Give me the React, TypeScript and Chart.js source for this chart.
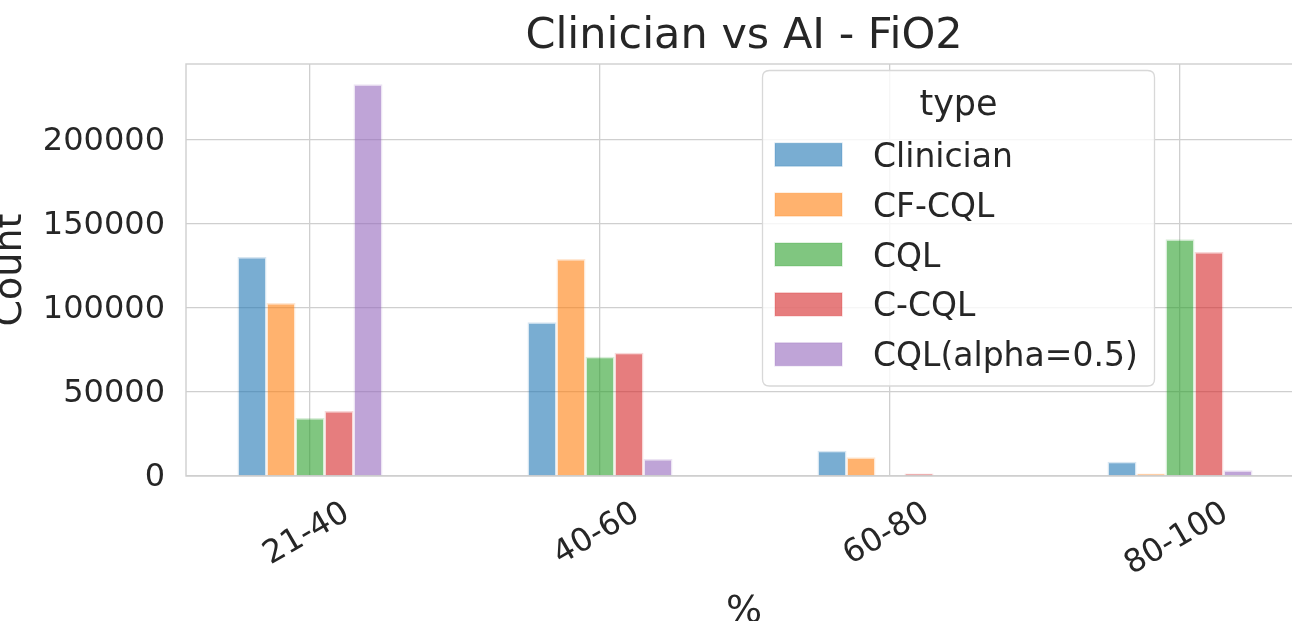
import React, { useEffect, useRef } from "react";
import { Chart, registerables } from "chart.js";

Chart.register(...registerables);

const categories = ["21-40", "40-60", "60-80", "80-100"];
const seriesNames = ["Clinician", "CF-CQL", "CQL", "C-CQL", "CQL(alpha=0.5)"];
const clinician = [130400, 91500, 15100, 8500];
const cfCql = [103000, 129100, 11100, 1500];
const cql = [34500, 71000, 0, 140900];
const cCql = [38700, 73400, 1500, 133300];
const cqlAlpha = [233100, 10100, 0, 3400];
const yTicks = [0, 50000, 100000, 150000, 200000];

const seriesValues = [clinician, cfCql, cql, cCql, cqlAlpha];
const seriesRgb = [
  [31, 119, 180],
  [255, 127, 14],
  [44, 160, 44],
  [214, 39, 40],
  [148, 103, 189],
];

const FONT = '"DejaVu Sans", "Liberation Sans", sans-serif';
const TEXT = "#262626";
const GRID = "#cfcfcf";

const rgba = (c: number[], a: number) => `rgba(${c[0]},${c[1]},${c[2]},${a})`;

const framePlugin = {
  id: "frame",
  beforeDatasetsDraw(chart: any) {
    const { ctx, chartArea } = chart;
    ctx.save();
    ctx.strokeStyle = GRID;
    ctx.lineWidth = 1.4;
    ctx.strokeRect(chartArea.left, chartArea.top, chartArea.right - chartArea.left, chartArea.bottom - chartArea.top);
    ctx.restore();
  },
};

const xLabelsPlugin = {
  id: "xLabels",
  afterDraw(chart: any) {
    const { ctx, chartArea } = chart;
    const xs = chart.scales.x;
    const size = 32;
    ctx.save();
    ctx.font = `${size}px ${FONT}`;
    ctx.fillStyle = TEXT;
    ctx.textAlign = "center";
    ctx.textBaseline = "alphabetic";
    const capH = 0.729 * size;
    const ang = Math.PI / 6;
    categories.forEach((label, i) => {
      const w = ctx.measureText(label).width;
      const H = w * Math.sin(ang) + capH * Math.cos(ang);
      const cx = xs.getPixelForValue(i) - 5;
      const cy = chartArea.bottom + 22 + H / 2;
      ctx.save();
      ctx.translate(cx, cy);
      ctx.rotate(-ang);
      ctx.fillText(label, 0, capH / 2);
      ctx.restore();
    });
    ctx.restore();
  },
};

const legendPlugin = {
  id: "customLegend",
  afterDatasetsDraw(chart: any) {
    const { ctx } = chart;
    const lx = 762.5, ly = 70.5, lw = 392, lh = 315.5, r = 7;
    ctx.save();
    ctx.beginPath();
    ctx.moveTo(lx + r, ly);
    ctx.lineTo(lx + lw - r, ly);
    ctx.quadraticCurveTo(lx + lw, ly, lx + lw, ly + r);
    ctx.lineTo(lx + lw, ly + lh - r);
    ctx.quadraticCurveTo(lx + lw, ly + lh, lx + lw - r, ly + lh);
    ctx.lineTo(lx + r, ly + lh);
    ctx.quadraticCurveTo(lx, ly + lh, lx, ly + lh - r);
    ctx.lineTo(lx, ly + r);
    ctx.quadraticCurveTo(lx, ly, lx + r, ly);
    ctx.closePath();
    ctx.fillStyle = "rgba(255,255,255,0.8)";
    ctx.fill();
    ctx.strokeStyle = "#d8d8d8";
    ctx.lineWidth = 1.3;
    ctx.stroke();

    ctx.fillStyle = TEXT;
    ctx.textAlign = "center";
    ctx.textBaseline = "alphabetic";
    ctx.font = `35px ${FONT}`;
    ctx.fillText("type", lx + lw / 2, 115);

    const fs = 33;
    ctx.font = `${fs}px ${FONT}`;
    ctx.textAlign = "left";
    chart.data.datasets.forEach((ds: any, i: number) => {
      const cy = 154.7 + i * 49.9;
      ctx.fillStyle = ds.backgroundColor;
      ctx.fillRect(775, cy - 11.5, 67, 23);
      ctx.strokeStyle = ds.borderColor;
      ctx.lineWidth = 1.5;
      ctx.strokeRect(775, cy - 11.5, 67, 23);
      ctx.fillStyle = TEXT;
      ctx.fillText(ds.label, 873, cy + (0.729 * fs) / 2);
    });
    ctx.restore();
  },
};

export default function App() {
  const ref = useRef<HTMLCanvasElement>(null);

  useEffect(() => {
    if (!ref.current) return;
    const datasets = seriesNames.map((name, s) => ({
      label: name,
      data: categories.map((_, i) => ({ x: i, y: seriesValues[s][i] })),
      backgroundColor: rgba(seriesRgb[s], 0.6),
      borderColor: rgba(seriesRgb[s], 0.18),
      borderWidth: 1.5,
      categoryPercentage: 0.5,
      barPercentage: 1,
    }));

    const chart = new Chart(ref.current, {
      type: "bar",
      data: { datasets } as any,
      options: {
        responsive: false,
        animation: false,
        layout: { padding: 0 },
        plugins: {
          legend: { display: false },
          tooltip: { enabled: false },
          title: {
            display: true,
            text: "Clinician vs AI - FiO2",
            color: TEXT,
            font: { family: FONT, size: 43, weight: "normal", lineHeight: 1.2 },
            padding: { top: 11.2, bottom: 1.2 },
          },
        },
        scales: {
          x: {
            type: "linear",
            min: -124 / 290,
            max: 3 + 122 / 290,
            offset: false,
            grid: { color: GRID, lineWidth: 1.3, drawTicks: false, offset: false },
            border: { display: false },
            ticks: { display: false, includeBounds: false, stepSize: 1 },
            afterBuildTicks: (s: any) => {
              s.ticks = categories.map((_, i) => ({ value: i }));
            },
            afterFit: (s: any) => {
              s.height = 145;
            },
            title: {
              display: true,
              text: "%",
              color: TEXT,
              font: { family: FONT, size: 38, lineHeight: 1.2 },
              padding: { top: 0, bottom: -13.5 },
            },
          },
          y: {
            type: "linear",
            position: "left",
            min: 0,
            max: 245200,
            grid: { color: GRID, lineWidth: 1.3, drawTicks: false },
            border: { display: false },
            ticks: {
              color: TEXT,
              font: { family: FONT, size: 32 },
              padding: 21,
              includeBounds: false,
              labelOffset: 2,
              callback: (v: any) => String(v),
            },
            afterBuildTicks: (s: any) => {
              s.ticks = yTicks.map((v) => ({ value: v }));
            },
            afterFit: (s: any) => {
              s.width = 186;
            },
            title: {
              display: true,
              text: "Count",
              color: TEXT,
              font: { family: FONT, size: 38, lineHeight: 1.2 },
              padding: { top: -11.4, bottom: 0 },
            },
          },
          yRight: {
            type: "linear",
            position: "right",
            display: true,
            min: 0,
            max: 245200,
            grid: { display: false, drawTicks: false },
            border: { display: false },
            ticks: { display: false },
            afterFit: (s: any) => {
              s.width = 186;
            },
          },
        },
      } as any,
      plugins: [framePlugin, xLabelsPlugin, legendPlugin],
    });
    return () => chart.destroy();
  }, []);

  return (
    <div
      style={{
        position: "fixed",
        left: 0,
        top: 0,
        width: 1292,
        height: 621,
        overflow: "hidden",
        background: "#ffffff",
      }}
    >
      <canvas
        ref={ref}
        width={1488}
        height={621}
        style={{ position: "absolute", left: 0, top: 0, width: 1488, height: 621 }}
      />
    </div>
  );
}
